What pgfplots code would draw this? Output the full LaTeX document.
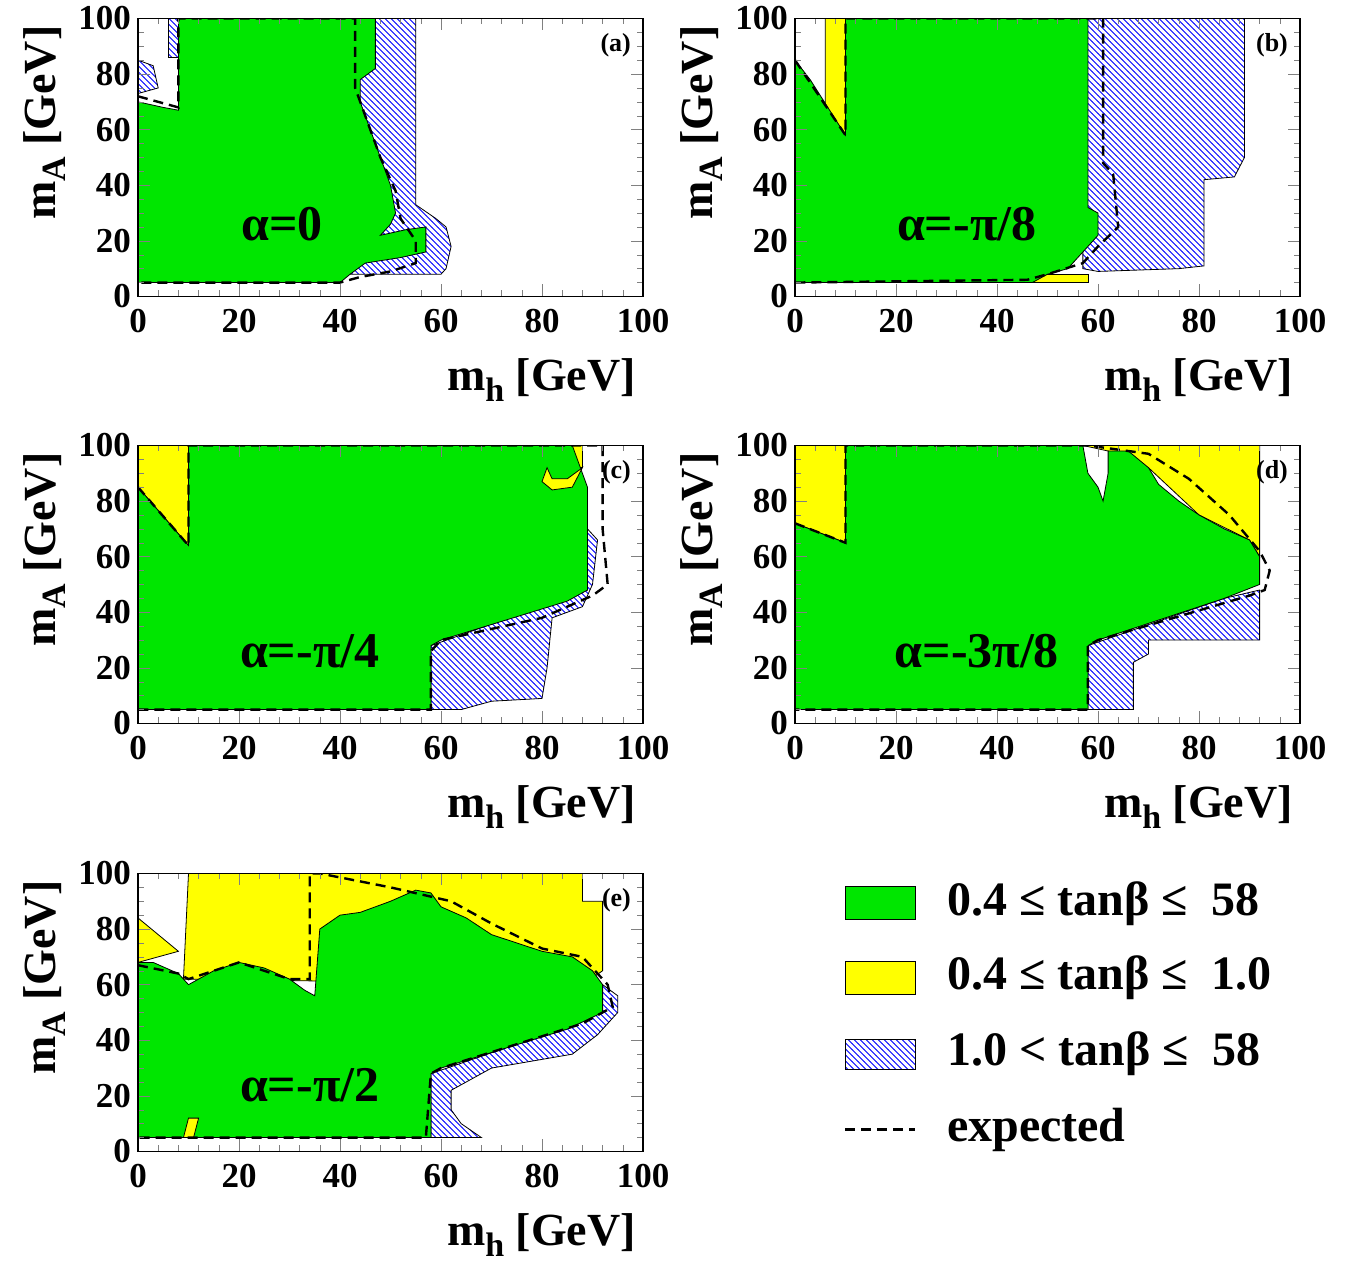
\documentclass[border=0pt]{standalone}
\usepackage{fontspec}
\setmainfont{Liberation Serif}
\usepackage{pgfplots}
\pgfplotsset{compat=1.18}
\usetikzlibrary{patterns}
\definecolor{rgreen}{RGB}{0,230,0}
\definecolor{ryellow}{RGB}{255,255,0}
\newcommand{\sub}[1]{\raisebox{-0.5ex}{\fontsize{17}{17}\selectfont #1}}
\pgfplotsset{myax/.style={scale only axis,width=252.5pt,height=139pt,
 xmin=0,xmax=100,ymin=0,ymax=100,
 xtick={0,20,...,100},ytick={0,20,...,100},
 minor x tick num=4, minor y tick num=3,
 tick align=inside, tick pos=both, major tick length=6pt, minor tick length=3pt,
 /pgf/number format/assume math mode=true,
 ticklabel style={font=\fontsize{17.5}{19}\selectfont\bfseries},
 xticklabel style={yshift=-3pt},
 xlabel={m\sub{h} [GeV]}, ylabel={m\sub{A} [GeV]},
 label style={font=\fontsize{23}{26}\selectfont\bfseries},
 xlabel style={at={(axis description cs:1,-0.30)},anchor=east},
 ylabel style={at={(axis description cs:-0.185,1)},anchor=east},
 axis line style={thick},
 clip=true, axis on top}}
\tikzset{
 hat/.style={pattern=north west lines,pattern color=blue,draw=black,thin},
 grn/.style={fill=rgreen,draw=black,thin},
 yel/.style={fill=ryellow,draw=black,thin},
 exp/.style={black,line width=1.2pt,dash pattern=on 5pt off 3pt},
 plab/.style={font=\fontsize{13}{15}\selectfont\bfseries,anchor=north east},
 alab/.style={font=\fontsize{25}{28}\selectfont\bfseries}}
\begin{document}
\begin{tikzpicture}
\path (0,0) rectangle (680pt,632pt);
% (a)
\begin{axis}[myax,at={(69pt,484.5pt)},anchor=south west]
\addplot[hat] coordinates {(43,100)(55,100)(55,33)(59,28)(61,25)(62,18)(61,10)(60,8)(42,8)(43,100)} -- cycle;
\addplot[hat] coordinates {(0,85)(3,83)(4,75)(0,73)} -- cycle;
\addplot[hat] coordinates {(6,100)(8,100)(8,86)(6,86)} -- cycle;
\addplot[grn] coordinates {(0,5)(0,70)(5,68)(8,67)(8,100)(47,100)(47,82)(44,78)(44,70)(46,60)(48,50)(50,40)(51,30)(50,26)(48,22)(53,24)(57,25)(57,16)(52,14)(45,12)(42,8)(40,5)} -- cycle;
\addplot[exp] coordinates {(0,72)(8,68)(8,100)(43,100)(43,75)(44,70)(46,60)(48,50)(51,38)(52,28)(55,20)(55,12)(50,9)(44,7)(40,5)(0,5)};
\node[plab] at (axis cs:99,97) {(a)};
\node[alab] at (axis cs:28.5,26) {α=0};
\end{axis}
% (b)
\begin{axis}[myax,at={(397.5pt,484.5pt)},anchor=south west]
\addplot[hat] coordinates {(57,100)(89,100)(89,50)(87,43)(81,42)(81,11)(76,10)(60,9)(57,10)} -- cycle;
\addplot[yel] coordinates {(6,100)(10,100)(10,58)(6,68)} -- cycle;
\addplot[yel] coordinates {(47,5)(58,5)(58,8)(47,8)} -- cycle;
\addplot[grn] coordinates {(0,5)(0,85)(3,78)(10,58)(10,100)(58,100)(58,32)(60,30)(60,22)(58,18)(56,14)(54,10)(50,8)(47,5)} -- cycle;
\addplot[exp] coordinates {(0,85)(10,58)(10,100)(61,100)(61,48)(63,44)(64,25)(60,18)(57,12)(50,8)(46,6)(0,5)};
\node[plab] at (axis cs:99,97) {(b)};
\node[alab] at (axis cs:34,26) {α=-π/8};
\end{axis}
% (c)
\begin{axis}[myax,at={(69pt,271pt)},anchor=south west]
\addplot[hat] coordinates {(58,28)(58,5)(64,5)(70,8)(80,9)(81,20)(82,38)(88,42)(90,50)(91,66)(89,70)(89,48)} -- cycle;
\addplot[yel] coordinates {(0,100)(10,100)(10,64)(0,85)} -- cycle;
\addplot[yel] coordinates {(86,100)(88,100)(88,92)(86,92)} -- cycle;
\addplot[grn] coordinates {(0,5)(0,85)(10,64)(10,100)(86,100)(89,85)(89,48)(85,44)(60,30)(58,28)(58,5)} -- cycle;
\addplot[yel] coordinates {(81,92)(82,88)(85,88)(88,92)(86,85)(82,84)(80,87)} -- cycle;
\addplot[exp] coordinates {(0,85)(10,64)(10,100)(92,100)(92,70)(93,50)(90,46)(80,38)(60,30)(58,26)(58,5)(0,5)};
\node[plab] at (axis cs:99,97) {(c)};
\node[alab] at (axis cs:34,26) {α=-π/4};
\end{axis}
% (d)
\begin{axis}[myax,at={(397.5pt,271pt)},anchor=south west]
\addplot[hat] coordinates {(58,28)(58,5)(67,5)(67,22)(70,25)(70,30)(92,30)(92,48)(85,45)} -- cycle;
\addplot[yel] coordinates {(0,100)(10,100)(10,65)(0,72)} -- cycle;
\addplot[yel] coordinates {(57,100)(92,100)(92,60)(90,66)(80,75)(70,92)(62,98)} -- cycle;
\addplot[grn] coordinates {(0,5)(0,72)(10,65)(10,100)(57,100)(58,90)(60,85)(61,80)(62,90)(62,98)(66,98)(70,92)(72,86)(76,80)(80,75)(85,70)(90,66)(92,60)(92,50)(85,45)(60,30)(58,28)(58,5)} -- cycle;
\addplot[exp] coordinates {(0,72)(10,65)(10,100)(58,100)(70,97)(78,88)(86,75)(92,62)(94,55)(93,48)(90,46)(60,30)(58,28)(58,5)(0,5)};
\node[plab] at (axis cs:99,97) {(d)};
\node[alab] at (axis cs:36,26) {α=-3π/8};
\end{axis}
% (e)
\begin{axis}[myax,at={(69pt,57pt)},anchor=south west]
\addplot[hat] coordinates {(58,28)(58,5)(68,5)(64,10)(62,15)(62,22)(70,30)(86,35)(91,42)(95,50)(95,56)(92,60)(90,48)} -- cycle;
\addplot[yel] coordinates {(0,84)(8,72)(0,68)} -- cycle;
\addplot[yel] coordinates {(9,62)(10,100)(88,100)(88,90)(92,90)(92,65)(88,60)} -- cycle;
\addplot[grn] coordinates {(0,5)(0,68)(3,68)(8,64)(10,60)(15,65)(20,68)(25,66)(30,62)(33,58)(35,56)(36,80)(40,85)(44,86)(50,90)(55,94)(58,93)(60,88)(65,84)(70,78)(80,72)(86,70)(90,65)(92,60)(92,50)(85,44)(60,30)(58,28)(58,5)} -- cycle;
\addplot[yel] coordinates {(9,5)(10,12)(12,12)(11,5)} -- cycle;
\addplot[exp] coordinates {(0,67)(8,64)(10,62)(20,68)(30,62)(34,62)(34,100)(36,100)(50,95)(62,90)(70,82)(80,73)(88,70)(93,60)(94,52)(88,46)(60,30)(58,28)(57,5)(0,5)};
\node[plab] at (axis cs:99,97) {(e)};
\node[alab] at (axis cs:34,24) {α=-π/2};
\end{axis}
% legend
\fill[rgreen,draw=black,thin] (422.5pt,173pt) rectangle (457.5pt,189.5pt);
\fill[ryellow,draw=black,thin] (422.5pt,135.5pt) rectangle (457.5pt,152pt);
\path[pattern=north west lines,pattern color=blue,draw=black,thin] (422.5pt,98pt) rectangle (457.5pt,113pt);
\draw[black,line width=1.2pt,dash pattern=on 5pt off 3pt] (422.5pt,68pt) -- (457.5pt,68pt);
\begin{scope}[every node/.style={anchor=west,font=\fontsize{24}{27}\selectfont\bfseries}]
\node at (470pt,181pt) {0.4 ≤ tanβ ≤\ \ 58};
\node at (470pt,144pt) {0.4 ≤ tanβ ≤\ \ 1.0};
\node at (470pt,106pt) {1.0 < tanβ ≤\ \ 58};
\node at (470pt,68pt) {expected};
\end{scope}
\end{tikzpicture}
\end{document}
